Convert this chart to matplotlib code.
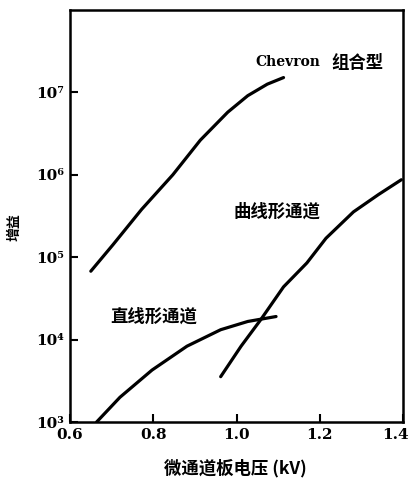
import numpy as np
import matplotlib
matplotlib.use("Agg")
import matplotlib.pyplot as plt
from matplotlib.transforms import ScaledTranslation

plt.rcParams['font.family'] = ['DejaVu Serif', 'Noto Sans CJK SC']

# gain vs MCP voltage (log10 of gain)
chevron_v = [0.65, 0.703, 0.772, 0.847, 0.913, 0.979, 1.027, 1.074, 1.113]
chevron_g = [4.83, 5.15, 5.58, 6.00, 6.42, 6.76, 6.96, 7.10, 7.18]

curved_v = [0.962, 1.011, 1.058, 1.113, 1.169, 1.215, 1.281, 1.341, 1.396]
curved_g = [3.55, 3.92, 4.24, 4.64, 4.93, 5.23, 5.55, 5.76, 5.94]

straight_v = [0.664, 0.72, 0.797, 0.881, 0.962, 1.027, 1.095]
straight_g = [3.00, 3.30, 3.63, 3.92, 4.12, 4.22, 4.28]

xticks = [0.6, 0.8, 1.0, 1.2, 1.4]
xticklabels = ['0.6', '0.8', '1.0', '1.2', '1.4']
yticks = [1e3, 1e4, 1e5, 1e6, 1e7]
yticklabels = ['10³', '10⁴', '10⁵', '10⁶', '10⁷']

fig = plt.figure(figsize=(4.11, 4.87), dpi=100)
ax = fig.add_axes([70 / 411, 65 / 487, 333 / 411, 412 / 487])

for v, g in [(chevron_v, chevron_g), (curved_v, curved_g), (straight_v, straight_g)]:
    ax.plot(v, 10 ** np.array(g), color='black', lw=2.3, solid_capstyle='round',
            solid_joinstyle='round')

ax.set_yscale('log')
ax.set_xlim(0.6, 1.4)
ax.set_ylim(1e3, 1e8)
ax.minorticks_off()
ax.set_xticks(xticks)
ax.set_xticklabels(xticklabels, fontsize=11, fontweight='bold')
ax.set_yticks(yticks)
ax.set_yticklabels(yticklabels, fontsize=11, fontweight='bold')
ax.tick_params(direction='in', length=6, width=1.5, pad=4)
for s in ax.spines.values():
    s.set_linewidth(1.8)

# last x label sits flush inside the right edge, as in the scan
last = ax.get_xticklabels()[-1]
last.set_horizontalalignment('right')
last.set_transform(last.get_transform() + ScaledTranslation(4 / 72, 0, fig.dpi_scale_trans))

cjk = ['Noto Sans CJK SC', 'DejaVu Serif']
ax.text(0.556, 0.874, 'Chevron', transform=ax.transAxes, fontsize=10,
        fontweight='bold', va='center')
ax.text(0.785, 0.872, '组合型', transform=ax.transAxes, fontsize=12.5,
        fontweight='bold', va='center', family=cjk)
ax.text(0.49, 0.51, '曲线形通道', transform=ax.transAxes, fontsize=12.5,
        fontweight='bold', va='center', family=cjk)
ax.text(0.12, 0.255, '直线形通道', transform=ax.transAxes, fontsize=12.5,
        fontweight='bold', va='center', family=cjk)

fig.text(15 / 411, 1 - 227 / 487, '增益', rotation=90, ha='center', va='center',
         fontsize=10, fontweight='bold', family=cjk)
fig.text(235 / 411, 1 - 468 / 487, '微通道板电压 (kV)', ha='center', va='center',
         fontsize=12.5, fontweight='bold', family=cjk)

fig.savefig('out.png', dpi=100)
